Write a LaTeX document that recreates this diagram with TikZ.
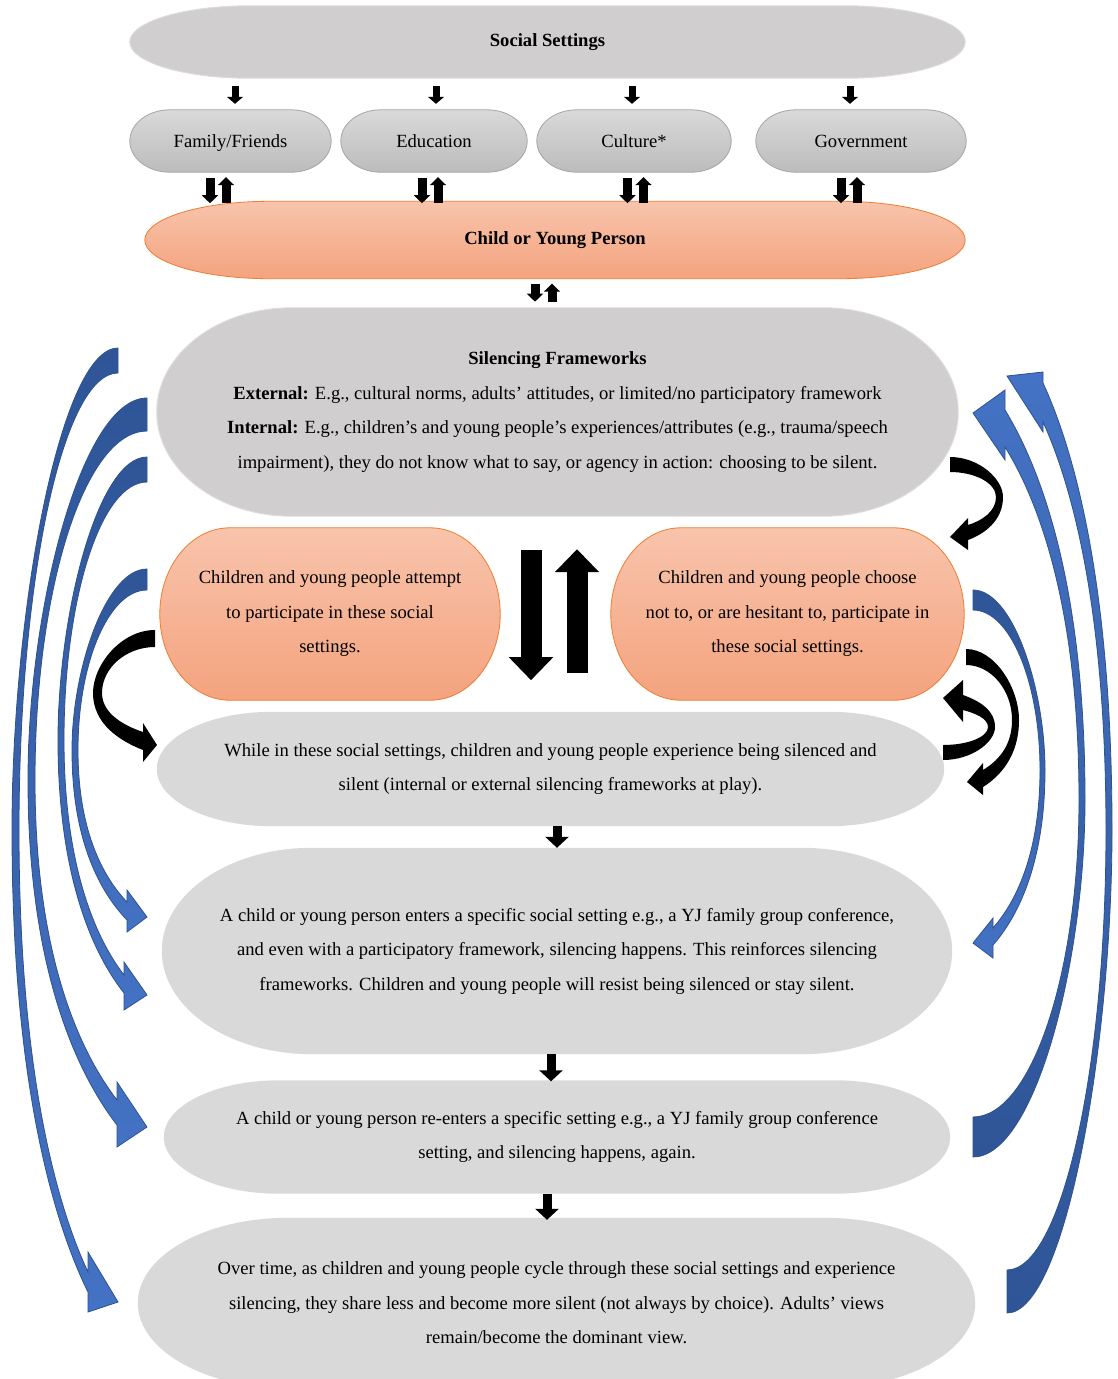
\documentclass[tikz,border=0pt]{standalone}
\usepackage{fontspec}
\setmainfont{Liberation Serif}
\usetikzlibrary{arrows.meta,calc}
\pgfdeclarelayer{background}
\pgfsetlayers{background,main}
\definecolor{GrayBox}{HTML}{D0CECE}
\definecolor{GrayEdge}{HTML}{DCDCDC}
\definecolor{PaleGray}{HTML}{D9D9D9}
\definecolor{TabTop}{HTML}{D9D9D9}
\definecolor{TabBot}{HTML}{BCBCBC}
\definecolor{TabLine}{HTML}{A5A5A5}
\definecolor{PeachTop}{HTML}{F8C4AC}
\definecolor{PeachBot}{HTML}{F4A37E}
\definecolor{Orange}{HTML}{ED7D31}
\definecolor{BlueDark}{HTML}{2F5597}
\definecolor{BlueLight}{HTML}{4472C4}
\definecolor{BlueLine}{HTML}{2F528F}
\tikzset{
  boxtext/.style={align=center,font=\fontsize{18.6}{34.5}\selectfont,inner sep=0pt,text=black},
  tabtext/.style={boxtext,text height=13pt,text depth=0pt,minimum height=62pt},
  graypill/.style={fill=GrayBox,draw=GrayEdge,line width=1pt},
  palepill/.style={fill=PaleGray},
  tabpill/.style={top color=TabTop,bottom color=TabBot,draw=TabLine,line width=0.8pt},
  peachpill/.style={top color=PeachTop,bottom color=PeachBot,draw=Orange,line width=0.8pt},
  smallarr/.style={-{Triangle[length=7pt,width=16pt]},line width=7pt},
  dblarr/.style={-{Triangle[length=8pt,width=16pt]},line width=9pt},
  midarr/.style={-{Triangle[length=11pt,width=23pt]},line width=9pt},
  bigarr/.style={-{Triangle[length=23pt,width=43pt]},line width=21pt},
  bluedown/.style={top color=BlueDark,bottom color=BlueLight,draw=BlueLine,line width=0.8pt},
  blueup/.style={top color=BlueLight,bottom color=BlueDark,draw=BlueLine,line width=0.8pt}
}
% rounded box with elliptic ends behind a node
\newcommand{\pillbg}[3]{%
  \begin{pgfonlayer}{background}
    \path[#3] let \p1=(#1.south west), \p2=(#1.north east) in
      (\x1+#2pt,\y1) -- (\x2-#2pt,\y1)
      arc[start angle=-90,end angle=90,x radius=#2pt,y radius={(\y2-(\y1))/2}]
      -- (\x1+#2pt,\y2)
      arc[start angle=90,end angle=270,x radius=#2pt,y radius={(\y2-(\y1))/2}] -- cycle;
  \end{pgfonlayer}}

\begin{document}
\begin{tikzpicture}[x=1pt,y=-1pt]
  \useasboundingbox (0,0) rectangle (1117,1379);
  \begin{pgfonlayer}{background}
    \fill[white] (0,0) rectangle (1117,1379);
  \end{pgfonlayer}

  % top row
  \node[boxtext,minimum width=835pt,minimum height=72pt] (social) at (547.5,42) {\textbf{Social Settings}};
  \node[tabtext,minimum width=201pt] (fam) at (230.5,141) {Family/Friends};
  \node[tabtext,minimum width=186pt] (edu) at (434,141) {Education};
  \node[tabtext,minimum width=194pt] (cult) at (634,141) {Culture*};
  \node[tabtext,minimum width=210pt] (gov) at (861,141) {Government};
  \node[boxtext,minimum width=820pt,minimum height=77pt] (child) at (555,240) {\textbf{Child or Young Person}};

  % main column
  \node[boxtext,minimum width=801pt,minimum height=208pt] (silence) at (557.5,412)
    {\textbf{Silencing Frameworks}\\\textbf{External:} E.g., cultural norms, adults’ attitudes, or limited/no participatory framework\\\textbf{Internal:} E.g., children’s and young people’s experiences/attributes (e.g., trauma/speech\\impairment), they do not know what to say, or agency in action: choosing to be silent.};
  \node[boxtext,minimum width=340pt,minimum height=172pt] (attempt) at (330,614)
    {Children and young people attempt\\to participate in these social\\settings.};
  \node[boxtext,minimum width=353pt,minimum height=172pt] (choose) at (787.5,614)
    {Children and young people choose\\not to, or are hesitant to, participate in\\these social settings.};
  \node[boxtext,minimum width=787pt,minimum height=114pt] (while) at (550.5,769)
    {While in these social settings, children and young people experience being silenced and\\silent (internal or external silencing frameworks at play).};
  \node[boxtext,minimum width=790pt,minimum height=206pt] (enters) at (557,951)
    {A child or young person enters a specific social setting e.g., a YJ family group conference,\\and even with a participatory framework, silencing happens. This reinforces silencing\\frameworks. Children and young people will resist being silenced or stay silent.};
  \node[boxtext,minimum width=786pt,minimum height=113pt] (reenters) at (557,1137)
    {A child or young person re-enters a specific setting e.g., a YJ family group conference\\setting, and silencing happens, again.};
  \node[boxtext,minimum width=837pt,minimum height=170pt] (overtime) at (556.5,1303)
    {Over time, as children and young people cycle through these social settings and experience\\silencing, they share less and become more silent (not always by choice). Adults’ views\\remain/become the dominant view.};

  \pillbg{social}{120}{graypill}
  \pillbg{fam}{40}{tabpill}
  \pillbg{edu}{40}{tabpill}
  \pillbg{cult}{40}{tabpill}
  \pillbg{gov}{40}{tabpill}
  \pillbg{child}{125}{peachpill}
  \pillbg{silence}{135}{graypill}
  \pillbg{attempt}{70}{peachpill}
  \pillbg{choose}{70}{peachpill}
  \pillbg{while}{115}{palepill}
  \pillbg{enters}{150}{palepill}
  \pillbg{reenters}{115}{palepill}
  \pillbg{overtime}{150}{palepill}

  % straight arrows
  \foreach \n/\dx in {fam/4.5,edu/2,cult/-2,gov/-11}
    \draw[smallarr] ($(\n.north)+(\dx,-24)$) -- ($(\n.north)+(\dx,-6)$);
  \foreach \n/\dx in {fam/-12.5,edu/-4,cult/1.5,gov/-12} {
    \draw[dblarr] ($(\n.south)+(\dx-8,6)$) -- ($(\n.south)+(\dx-8,31)$);
    \draw[dblarr] ($(\n.south)+(\dx+8,31)$) -- ($(\n.south)+(\dx+8,5)$);
  }
  \draw[dblarr] ($(child.south)+(-20,5)$) -- ($(child.south)+(-20,23)$);
  \draw[dblarr] ($(child.south)+(-3,23)$) -- ($(child.south)+(-3,5)$);
  \draw[bigarr] ($(silence.south)+(-26.5,34)$) -- ($(silence.south)+(-26.5,164)$);
  \draw[bigarr] ($(silence.south)+(19.5,157)$) -- ($(silence.south)+(19.5,33)$);
  \draw[midarr] (while.south -| enters.north) -- (enters.north);
  \draw[midarr] ($(enters.south)+(-6,0)$) -- ($(reenters.north)+(-6,1)$);
  \draw[midarr] ($(reenters.south)+(-10,0)$) -- ($(overtime.north)+(-9.5,2)$);

  % curved arrows, left side
  \draw[bluedown] (118,348) .. controls (60,348) and (12,613) .. (12,830)
    .. controls (12,1084) and (54,1223) .. (88,1292) -- (88,1312) -- (118,1302) -- (88,1252) -- (88,1272)
    .. controls (57,1206) and (19,1073) .. (19,830)
    .. controls (19,579) and (63,373) .. (118,373) -- cycle;
  \draw[bluedown] (147,398) .. controls (82,398) and (28,608) .. (28,780)
    .. controls (28,970) and (77,1073) .. (117,1125) -- (117,1147) -- (147,1127) -- (117,1082) -- (117,1100)
    .. controls (80,1052) and (35,956) .. (35,780)
    .. controls (35,588) and (85,431) .. (147,431) -- cycle;
  \draw[bluedown] (147,457) .. controls (98,457) and (58,613) .. (58,740)
    .. controls (58,879) and (94,955) .. (124,993) -- (124,1010) -- (147,995) -- (124,962) -- (124,975)
    .. controls (97,940) and (64,869) .. (64,740)
    .. controls (64,598) and (101,482) .. (147,482) -- cycle;
  \draw[bluedown] (147,569) .. controls (106,569) and (72,669) .. (72,750)
    .. controls (72,844) and (102,894) .. (127,920) -- (127,932) -- (147,917) -- (127,890) -- (127,902)
    .. controls (105,879) and (78,834) .. (78,750)
    .. controls (78,662) and (109,590) .. (147,590) -- cycle;
  \fill (155,630) .. controls (121,630) and (93,665) .. (93,693)
    .. controls (93,724) and (120,741) .. (143,750) -- (143,762) -- (157,745) -- (143,723) -- (143,732)
    .. controls (125,726) and (102,714) .. (102,693)
    .. controls (102,668) and (126,647) .. (155,647) -- cycle;

  % curved arrows, right side
  \draw[blueup] (1007,1313) .. controls (1065,1313) and (1112,1047) .. (1112,830)
    .. controls (1112,584) and (1074,450) .. (1043,383) -- (1043,372) -- (1007,376) -- (1043,432) -- (1043,422)
    .. controls (1071,483) and (1106,606) .. (1106,830)
    .. controls (1106,1072) and (1061,1270) .. (1007,1270) -- cycle;
  \draw[blueup] (973,1157) .. controls (1035,1157) and (1085,961) .. (1085,800)
    .. controls (1085,585) and (1041,469) .. (1005,410) -- (1005,390) -- (973,413) -- (1005,460) -- (1005,447)
    .. controls (1038,500) and (1079,606) .. (1079,800)
    .. controls (1079,974) and (1031,1117) .. (973,1117) -- cycle;
  \draw[bluedown] (973,590) .. controls (1013,590) and (1045,689) .. (1045,770)
    .. controls (1045,866) and (1016,919) .. (993,945) -- (993,958) -- (973,943) -- (993,918) -- (993,928)
    .. controls (1014,904) and (1040,857) .. (1040,770)
    .. controls (1040,682) and (1010,610) .. (973,610) -- cycle;
  \fill (950,457) .. controls (979,457) and (1003,479) .. (1003,497)
    .. controls (1003,521) and (984,534) .. (968,540) -- (968,550) -- (950,537) -- (968,518) -- (968,525)
    .. controls (981,521) and (996,512) .. (996,497)
    .. controls (996,483) and (975,472) .. (950,472) -- cycle;
  \fill (966,649) .. controls (995,649) and (1019,688) .. (1019,720)
    .. controls (1019,757) and (999,777) .. (983,787) -- (983,795) -- (967,782) -- (983,763) -- (983,770)
    .. controls (996,762) and (1012,748) .. (1012,720)
    .. controls (1012,690) and (991,665) .. (966,665) -- cycle;
  \fill (943,760) .. controls (972,760) and (995,742) .. (995,727)
    .. controls (995,709) and (977,700) .. (963,695) -- (963,680) -- (943,698) -- (963,722) -- (963,710)
    .. controls (974,713) and (988,718) .. (988,727)
    .. controls (988,737) and (968,745) .. (943,745) -- cycle;
\end{tikzpicture}
\end{document}
